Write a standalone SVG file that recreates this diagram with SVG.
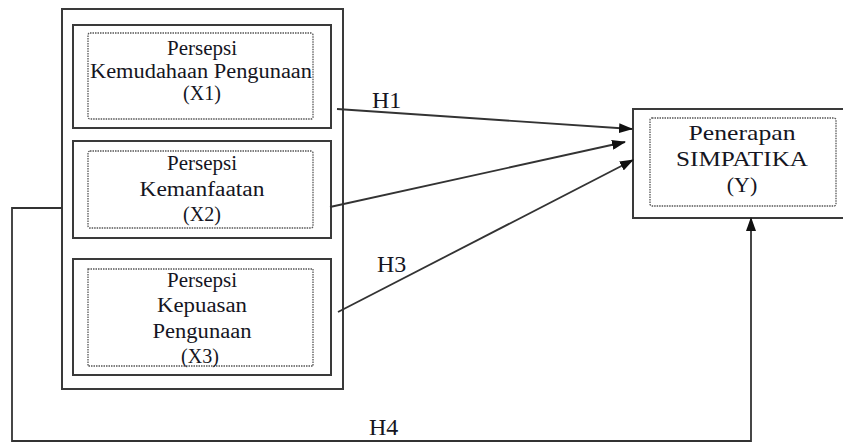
<svg xmlns="http://www.w3.org/2000/svg" width="843" height="443" viewBox="0 0 843 443">
<defs>
<style>
.box{fill:#fff;stroke:#3a3a3a;stroke-width:2}
.dot{fill:none;stroke:#555;stroke-width:1.3;stroke-dasharray:1.5 1}
.t{font-family:"Liberation Serif","Times New Roman",serif;font-size:20px;fill:#151522;text-anchor:middle}
.ty{font-family:"Liberation Serif","Times New Roman",serif;font-size:22px;fill:#151522;text-anchor:middle}
.h{font-family:"Liberation Serif","Times New Roman",serif;font-size:24px;fill:#151522}
.ln{fill:none;stroke:#333;stroke-width:1.8}
</style>
<marker id="ah" markerWidth="14" markerHeight="10" refX="13" refY="5" orient="auto" markerUnits="userSpaceOnUse">
<path d="M0,0 L14,5 L0,10 Z" fill="#111"/>
</marker>
</defs>
<rect width="843" height="443" fill="#fff"/>
<g id="group-x">
<rect class="box" x="62" y="9" width="281" height="380"/>
</g>
<g id="node-x1">
<rect class="box" x="73" y="25" width="258" height="103"/>
<rect class="dot" x="88" y="33" width="225" height="86" rx="2"/>
<text class="t" x="202" y="55" textLength="70" lengthAdjust="spacingAndGlyphs">Persepsi</text>
<text class="t" x="201" y="78" textLength="222" lengthAdjust="spacingAndGlyphs">Kemudahaan Pengunaan</text>
<text class="t" x="202" y="100">(X1)</text>
</g>
<g id="node-x2">
<rect class="box" x="73" y="141" width="258" height="97"/>
<rect class="dot" x="88" y="151" width="225" height="77" rx="2"/>
<text class="t" x="202" y="170" textLength="70" lengthAdjust="spacingAndGlyphs">Persepsi</text>
<text class="t" x="202" y="196" textLength="125" lengthAdjust="spacingAndGlyphs">Kemanfaatan</text>
<text class="t" x="202" y="221">(X2)</text>
</g>
<g id="node-x3">
<rect class="box" x="73" y="259" width="258" height="116"/>
<rect class="dot" x="88" y="269" width="225" height="97"/>
<text class="t" x="202" y="287" textLength="70" lengthAdjust="spacingAndGlyphs">Persepsi</text>
<text class="t" x="202" y="312" textLength="90" lengthAdjust="spacingAndGlyphs">Kepuasan</text>
<text class="t" x="202" y="338" textLength="99" lengthAdjust="spacingAndGlyphs">Pengunaan</text>
<text class="t" x="200" y="363">(X3)</text>
</g>
<g id="node-y">
<rect class="box" x="633" y="109" width="215" height="109"/>
<rect class="dot" x="650" y="118" width="186" height="88" rx="2"/>
<text class="ty" x="742" y="140" textLength="107" lengthAdjust="spacingAndGlyphs">Penerapan</text>
<text class="ty" x="742" y="166" textLength="132" lengthAdjust="spacingAndGlyphs">SIMPATIKA</text>
<text class="ty" x="742" y="192">(Y)</text>
</g>
<g id="connectors">
<line class="ln" x1="337" y1="109" x2="632" y2="129" marker-end="url(#ah)"/>
<line class="ln" x1="330" y1="207" x2="625" y2="142" marker-end="url(#ah)"/>
<line class="ln" x1="338" y1="312" x2="633" y2="160" marker-end="url(#ah)"/>
<polyline class="ln" points="62,208 12,208 12,441 751,441 751,218" marker-end="url(#ah)"/>
<text class="h" x="372" y="108">H1</text>
<text class="h" x="377" y="272">H3</text>
<text class="h" x="369" y="435">H4</text>
</g>
</svg>
